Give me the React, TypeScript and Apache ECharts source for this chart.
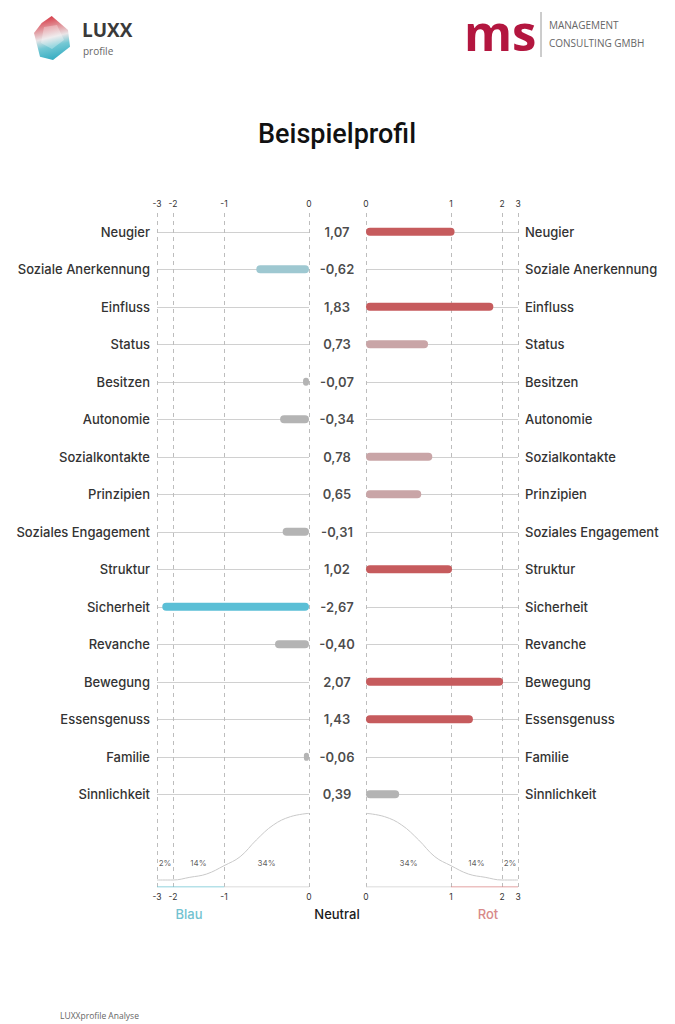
import React, { useEffect, useRef } from "react";
import * as echarts from "echarts";

const categories = [
  "Neugier", "Soziale Anerkennung", "Einfluss", "Status", "Besitzen", "Autonomie",
  "Sozialkontakte", "Prinzipien", "Soziales Engagement", "Struktur", "Sicherheit",
  "Revanche", "Bewegung", "Essensgenuss", "Familie", "Sinnlichkeit",
];
const values = [
  1.07, -0.62, 1.83, 0.73, -0.07, -0.34, 0.78, 0.65, -0.31, 1.02, -2.67, -0.4, 2.07,
  1.43, -0.06, 0.39,
];
const leftTicks = [-3, -2, -1, 0];
const rightTicks = [0, 1, 2, 3];
// distribution curve: [value, height]
const curveLeft = [
  [-3, 7], [-2, 7], [-1.67, 9.7], [-1.34, 13], [-1, 21.3], [-0.81, 30.3],
  [-0.62, 47], [-0.42, 62], [-0.22, 70.3], [0, 73.7],
];
const curveRight = [
  [0, 73.7], [0.22, 70.3], [0.42, 62], [0.62, 47], [0.81, 30.3], [1, 21.3],
  [1.34, 13], [1.67, 9.7], [2, 7], [3, 7],
];
const pctLeft = [[-2.5, "2%"], [-1.5, "14%"], [-0.5, "34%"]];
const pctRight = [[0.5, "34%"], [1.5, "14%"], [2.5, "2%"]];

// non-linear scale of the profile axis
const BV = [0, 1, 2, 3];
const BP = [0, 85, 136, 152];
function f(v: number): number {
  const s = v < 0 ? -1 : 1;
  const a = Math.min(Math.abs(v), 3);
  for (let i = 1; i < BV.length; i++) {
    if (a <= BV[i]) {
      return s * (BP[i - 1] + ((a - BV[i - 1]) / (BV[i] - BV[i - 1])) * (BP[i] - BP[i - 1]));
    }
  }
  return s * BP[BP.length - 1];
}
function inv(t: number): number {
  const s = t < 0 ? -1 : 1;
  const a = Math.abs(t);
  for (let i = 1; i < BP.length; i++) {
    if (a <= BP[i] + 0.001) {
      return s * (BV[i - 1] + ((a - BP[i - 1]) / (BP[i] - BP[i - 1])) * (BV[i] - BV[i - 1]));
    }
  }
  return s * 3;
}
function colorFor(v: number): string {
  if (v >= 1) return "#c65b5d";
  if (v >= 0.5) return "#c9a5a7";
  if (v > -0.5) return "#b4b4b4";
  if (v > -1) return "#9ec8d1";
  return "#5bbfd6";
}
const fmt = (v: number) => v.toFixed(2).replace(".", ",");

const FONT = "Inter";
const GL = 157, GR = 366, GW = 152;
const TOP = 213, UH = 600, LH = 74;

export default function App() {
  const ref = useRef<HTMLDivElement>(null);
  useEffect(() => {
    if (!ref.current) return;
    echarts.graphic.registerShape(
      "gem",
      echarts.graphic.extendPath("M17.7 0 L34 14 L36 30.7 L19 44 L6 40.7 L0 17 L7.7 7 Z", {})
    );
    const chart = echarts.init(ref.current, undefined, { renderer: "svg" });

    const tickLabelL = leftTicks.map((v) => f(v));
    const tickLabelR = rightTicks.map((v) => f(v));
    const labelFmt = (t: number) => String(Math.round(inv(t)));

    const dashLines = (ticks: number[]) => ({
      silent: true,
      symbol: "none",
      z: 1,
      label: { show: false },
      lineStyle: { color: "#bdbdbd", type: [4, 4], width: 1 },
      data: ticks.map((v) => ({ xAxis: f(v) })),
    });

    const xAx = (idx: number, min: number, max: number, ticks: number[], pos: string) => ({
      gridIndex: idx,
      type: "value",
      min,
      max,
      position: pos,
      axisLine: { show: false },
      axisTick: { show: false, customValues: ticks },
      splitLine: { show: false },
      axisLabel: {
        customValues: ticks,
        formatter: labelFmt,
        fontSize: 8.5,
        color: "#333",
        fontFamily: FONT,
        margin: 5,
      },
    });

    const catAxis = (idx: number, pos: string, show: boolean) => ({
      gridIndex: idx,
      type: "category",
      data: categories,
      inverse: true,
      position: pos,
      axisLine: { show: false },
      axisTick: { show: false },
      splitLine: { show: false },
      axisLabel: {
        show,
        fontSize: 13,
        color: "#333",
        fontFamily: FONT,
        fontWeight: 500,
        margin: 7,
      },
    });
    const valY = (idx: number) => ({
      gridIndex: idx,
      type: "value",
      min: 0,
      max: LH,
      show: false,
    });

    const rowLines = {
      silent: true,
      symbol: "none",
      z: 1,
      label: { show: false },
      lineStyle: { color: "#d0d0d0", type: "solid", width: 1 },
      data: categories.map((c) => ({ yAxis: c })),
    };

    const option: any = {
      animation: false,
      grid: [
        { left: GL, top: TOP, width: GW, height: UH },
        { left: GR, top: TOP, width: GW, height: UH },
        { left: 317, top: TOP, width: 40, height: UH },
        { left: GL, top: TOP + UH, width: GW, height: LH },
        { left: GR, top: TOP + UH, width: GW, height: LH },
      ],
      xAxis: [
        xAx(0, -GW, 0, tickLabelL, "top"),
        xAx(1, 0, GW, tickLabelR, "top"),
        { gridIndex: 2, type: "value", min: -1, max: 1, show: false },
        xAx(3, -GW, 0, tickLabelL, "bottom"),
        xAx(4, 0, GW, tickLabelR, "bottom"),
      ],
      yAxis: [
        catAxis(0, "left", true),
        catAxis(1, "right", true),
        catAxis(2, "left", false),
        valY(3),
        valY(4),
      ],
      series: [
        {
          type: "line",
          xAxisIndex: 0,
          yAxisIndex: 0,
          z: 1,
          data: [],
          markLine: rowLines,
        },
        {
          type: "line",
          xAxisIndex: 1,
          yAxisIndex: 1,
          z: 1,
          data: [],
          markLine: rowLines,
        },
        {
          type: "bar",
          xAxisIndex: 0,
          yAxisIndex: 0,
          barWidth: 8,
          z: 10,
          data: values.map((v) =>
            v < 0
              ? { value: f(v), itemStyle: { color: colorFor(v), borderRadius: 4 } }
              : "-"
          ),
          markLine: dashLines(leftTicks),
        },
        {
          type: "bar",
          xAxisIndex: 1,
          yAxisIndex: 1,
          barWidth: 8,
          z: 10,
          data: values.map((v) =>
            v >= 0
              ? { value: f(v), itemStyle: { color: colorFor(v), borderRadius: 4 } }
              : "-"
          ),
          markLine: dashLines(rightTicks),
        },
        {
          type: "scatter",
          xAxisIndex: 2,
          yAxisIndex: 2,
          symbolSize: 0,
          silent: true,
          data: values.map((v, i) => ({ value: [0, categories[i]] })),
          label: {
            show: true,
            position: "inside",
            formatter: (p: any) => fmt(values[p.dataIndex]),
            fontSize: 13,
            fontWeight: 600,
            color: "#1a1a1a",
            fontFamily: FONT,
          },
        },
        // lower distribution: left
        {
          type: "line",
          xAxisIndex: 3,
          yAxisIndex: 3,
          smooth: 0.4,
          symbol: "none",
          silent: true,
          lineStyle: { color: "#c9c9c9", width: 1 },
          data: curveLeft.map(([v, h]) => [f(v), h]),
          markLine: dashLines(leftTicks),
        },
        {
          type: "line",
          xAxisIndex: 4,
          yAxisIndex: 4,
          smooth: 0.4,
          symbol: "none",
          silent: true,
          lineStyle: { color: "#c9c9c9", width: 1 },
          data: curveRight.map(([v, h]) => [f(v), h]),
          markLine: dashLines(rightTicks),
        },
        {
          type: "line",
          xAxisIndex: 3,
          yAxisIndex: 3,
          symbol: "none",
          silent: true,
          lineStyle: { color: "#6cc3d2", width: 1.2 },
          data: [[f(-3), 0], [f(-1), 0]],
        },
        {
          type: "line",
          xAxisIndex: 3,
          yAxisIndex: 3,
          symbol: "none",
          silent: true,
          lineStyle: { color: "#cfcfcf", width: 1.2 },
          data: [[f(-1), 0], [f(0), 0]],
        },
        {
          type: "line",
          xAxisIndex: 4,
          yAxisIndex: 4,
          symbol: "none",
          silent: true,
          lineStyle: { color: "#cfcfcf", width: 1.2 },
          data: [[f(0), 0], [f(1), 0]],
        },
        {
          type: "line",
          xAxisIndex: 4,
          yAxisIndex: 4,
          symbol: "none",
          silent: true,
          lineStyle: { color: "#d98383", width: 1.2 },
          data: [[f(1), 0], [f(3), 0]],
        },
        {
          type: "scatter",
          xAxisIndex: 3,
          yAxisIndex: 3,
          symbolSize: 0,
          silent: true,
          data: pctLeft.map(([v, t]) => ({ value: [f(v as number), 24], name: t })),
          label: {
            show: true,
            position: "inside",
            formatter: (p: any) => p.name,
            fontSize: 8,
            color: "#333",
            fontFamily: FONT,
          },
        },
        {
          type: "scatter",
          xAxisIndex: 4,
          yAxisIndex: 4,
          symbolSize: 0,
          silent: true,
          data: pctRight.map(([v, t]) => ({ value: [f(v as number), 24], name: t })),
          label: {
            show: true,
            position: "inside",
            formatter: (p: any) => p.name,
            fontSize: 8,
            color: "#333",
            fontFamily: FONT,
          },
        },
      ],
      graphic: [
        {
          type: "text",
          x: 337,
          y: 134,
          style: {
            text: "Beispielprofil",
            align: "center",
            verticalAlign: "middle",
            fontSize: 27,
            fontWeight: 500,
            fontFamily: "Roboto",
            fill: "#111",
          },
        },
        {
          type: "text",
          x: 189,
          y: 914,
          style: { text: "Blau", align: "center", verticalAlign: "middle", fontSize: 13, fontWeight: 500, fontFamily: FONT, fill: "#72c2d0" },
        },
        {
          type: "text",
          x: 337,
          y: 914,
          style: { text: "Neutral", align: "center", verticalAlign: "middle", fontSize: 13, fontWeight: 500, fontFamily: FONT, fill: "#1a1a1a" },
        },
        {
          type: "text",
          x: 488,
          y: 914,
          style: { text: "Rot", align: "center", verticalAlign: "middle", fontSize: 13, fontWeight: 500, fontFamily: FONT, fill: "#d88a8a" },
        },
        // LUXX logo
        {
          type: "gem",
          x: 34,
          y: 16,
          shape: {},
          style: {
            fill: new echarts.graphic.LinearGradient(0.3, 0, 0.5, 1, [
              { offset: 0, color: "#d6323f" },
              { offset: 0.3, color: "#e29aa0" },
              { offset: 0.5, color: "#e9e4e6" },
              { offset: 0.7, color: "#74c8d4" },
              { offset: 1, color: "#35adc2" },
            ]),
          },
        },
        {
          type: "polygon",
          shape: { points: [[44, 27], [57, 25], [64, 40], [52, 49], [41, 43]] },
          style: { fill: "rgba(255,255,255,0.3)" },
        },
        {
          type: "text",
          x: 82,
          y: 30,
          style: { text: "LUXX", verticalAlign: "middle", fontSize: 19, fontWeight: 700, fontFamily: "Open Sans", fill: "#3a3a3a" },
        },
        {
          type: "text",
          x: 83,
          y: 51,
          style: { text: "profile", verticalAlign: "middle", fontSize: 10, fontFamily: "Open Sans", fill: "#666" },
        },
        // ms logo
        {
          type: "text",
          x: 464,
          y: 32,
          style: { text: "ms", verticalAlign: "middle", fontSize: 49, lineHeight: 40, fontWeight: 700, fontFamily: "Open Sans", fill: "#b3163f" },
        },
        {
          type: "line",
          shape: { x1: 541, y1: 12, x2: 541, y2: 57 },
          style: { stroke: "#9a9a9a", lineWidth: 1 },
        },
        {
          type: "text",
          x: 549,
          y: 25,
          style: { text: "MANAGEMENT", verticalAlign: "middle", fontSize: 10, fontFamily: "Open Sans", fill: "#666" },
        },
        {
          type: "text",
          x: 549,
          y: 43,
          style: { text: "CONSULTING GMBH", verticalAlign: "middle", fontSize: 10, fontFamily: "Open Sans", fill: "#666" },
        },
        {
          type: "text",
          x: 60,
          y: 1015,
          style: { text: "LUXXprofile Analyse", verticalAlign: "middle", fontSize: 8.5, fontFamily: "Open Sans", fill: "#666" },
        },
      ],
    };
    chart.setOption(option);
    return () => chart.dispose();
  }, []);
  return (
    <div
      ref={ref}
      style={{ position: "absolute", left: 0, top: 0, width: 675, height: 1024, background: "#fff" }}
    />
  );
}
